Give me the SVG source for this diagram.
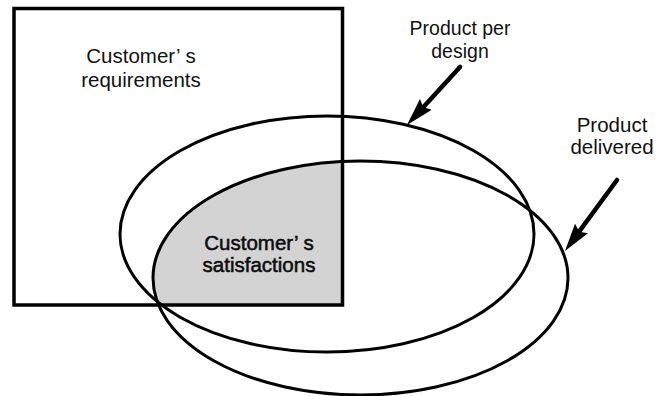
<svg xmlns="http://www.w3.org/2000/svg" width="659" height="396" viewBox="0 0 659 396">
  <style>
    .outline { fill: none; stroke: #000; stroke-width: 3; }
    .frame { fill: none; stroke: #000; stroke-width: 3.5; }
    .label { font-family: "Liberation Sans", Arial, Helvetica, sans-serif; fill: #111; text-anchor: middle; }
    .dark { stroke: #000; stroke-width: 0.5; }
    .pointer { stroke: #000; stroke-width: 4.5; stroke-linecap: round; fill: none; marker-end: url(#head); }
  </style>
  <defs>
    <marker id="head" viewBox="0 0 28 16" refX="9" refY="8" markerWidth="28" markerHeight="16" markerUnits="userSpaceOnUse" orient="auto">
      <path d="M0,0 L28,8 L0,16 L4,8 z" fill="#000"/>
    </marker>
    <clipPath id="req-area">
      <rect x="14" y="8.5" width="328.5" height="296.5"/>
    </clipPath>
  </defs>

  <!-- overlap of requirements and delivered product -->
  <g id="satisfactions">
    <ellipse cx="360.5" cy="278" rx="207.5" ry="117" fill="#d3d3d3" clip-path="url(#req-area)"/>
    <text class="label dark" x="259" y="250" font-size="20.5">Customer’ s</text>
    <text class="label dark" x="259" y="272" font-size="20.5">satisfactions</text>
  </g>

  <g id="requirements">
    <rect class="frame" x="14" y="8.5" width="328.5" height="296.5"/>
    <text class="label" x="141" y="63" font-size="20.5">Customer’ s</text>
    <text class="label" x="141" y="87" font-size="20.5">requirements</text>
  </g>

  <g id="design">
    <ellipse class="outline" cx="327" cy="234" rx="207" ry="118"/>
    <text class="label" x="460" y="35" font-size="19.5">Product per</text>
    <text class="label" x="460" y="58" font-size="19.5">design</text>
  </g>

  <g id="delivered">
    <ellipse class="outline" cx="360.5" cy="278" rx="207.5" ry="117"/>
    <text class="label" x="612" y="132" font-size="20.5">Product</text>
    <text class="label" x="612" y="154" font-size="20.5">delivered</text>
  </g>

  <g id="connectors">
    <line class="pointer" x1="460" y1="67" x2="419.8" y2="111"/>
    <line class="pointer" x1="617" y1="180" x2="576.2" y2="235.7"/>
  </g>
</svg>
